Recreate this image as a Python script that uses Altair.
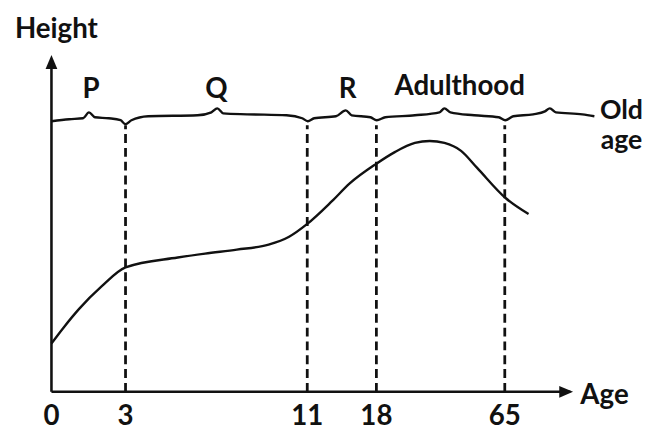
import altair as alt
import pandas as pd

# Growth curve (age in years, height in drawing units above the Age axis)
curve_age = [0, 0.52, 1.12, 2.04, 3, 5.3, 6.5, 7.9, 9.3, 10.2, 11, 13.5, 15.3, 18,
             24.9, 32.1, 37.5, 42.9, 49.0, 54.8, 65.4, 73.7]
curve_h = [49, 66, 84, 107, 126, 136, 140, 144, 149, 157, 170, 193, 211, 231,
           243, 252, 254, 252, 244, 227, 196, 180]

# Wavy stage-boundary line near the top
wave_age = [0, 0.72, 1.28, 1.52, 1.76, 2.32, 2.8, 3, 3.26, 4.0, 6.17, 6.78, 7.04,
            7.3, 8.35, 10.09, 10.78, 11.05, 11.7, 13.9, 14.9, 15.5, 17.4, 18.1,
            21.25, 32.1, 41.1, 42.9, 45.1, 53.8, 62.8, 65.2, 68.1, 75.4, 79.7,
            81.5, 83.7, 93.4, 97.8]
wave_h = [274, 276, 277, 283, 278, 277, 275, 271, 275, 279, 280, 283, 287,
          282, 281, 280, 277, 274, 277, 279, 285, 280, 278, 275,
          278, 280, 283, 287, 283, 280, 278, 275, 279, 281, 284,
          287, 283, 281, 279]

# Stage boundaries (dashed lines) and tick labels
boundary_ages = [3, 11, 18, 65]
tick_ages = [0, 3, 11, 18, 65]
tick_labels = ["0", "3", "11", "18", "65"]

# Stage labels
stage_labels = ["P", "Q", "R", "Adulthood"]
stage_age = [1.6, 7.0, 15.1, 48.5]
stage_h = [306, 306, 306, 309]

FONT = "Lato"
FS = 28
INK = "#111111"

x_scale = alt.Scale(type="linear", domain=[0, 3, 11, 18, 65],
                    range=[0, 75, 259, 329, 459], nice=False, zero=False)
y_scale = alt.Scale(domain=[0, 341], nice=False, zero=False)

X = lambda f: alt.X(f, type="quantitative", scale=x_scale, axis=None)
Y = lambda f: alt.Y(f, type="quantitative", scale=y_scale, axis=None)

curve_df = pd.DataFrame({"age": curve_age, "h": curve_h})
wave_df = pd.DataFrame({"age": wave_age, "h": wave_h})
bound_df = pd.DataFrame({"age": boundary_ages, "h0": [0] * 4, "h1": [270] * 4})
tick_df = pd.DataFrame({"age": tick_ages, "label": tick_labels, "h": [-26] * 5})
stage_df = pd.DataFrame({"age": stage_age, "h": stage_h, "label": stage_labels})

axes_df = pd.DataFrame({"age": [0, 0], "age2": [89, 0], "h": [0, 0], "h2": [0, 336]})
arrow_df = pd.DataFrame({"age": [90.0], "h": [0]})
arrow_up_df = pd.DataFrame({"age": [0], "h": [341]})
misc_df = pd.DataFrame({
    "age": [0.2, 101.5],
    "h": [366, -4],
    "label": ["Height", "Age"],
})
old_df = pd.DataFrame({"age": [107.7, 107.7], "h": [284, 254], "label": ["Old", "age"]})

curve = alt.Chart(curve_df).mark_line(
    color=INK, strokeWidth=2.4, interpolate="monotone", clip=False
).encode(x=X("age"), y=Y("h"))

wave = alt.Chart(wave_df).mark_line(
    color=INK, strokeWidth=2.4, interpolate="monotone", clip=False
).encode(x=X("age"), y=Y("h"))

bounds = alt.Chart(bound_df).mark_rule(
    color=INK, strokeWidth=2.8, strokeDash=[9, 5]
).encode(x=X("age"), y=Y("h0"), y2="h1")

axes = alt.Chart(axes_df).mark_rule(color=INK, strokeWidth=2.6, clip=False).encode(
    x=X("age"), x2="age2", y=Y("h"), y2="h2"
)

arrow_r = alt.Chart(arrow_df).mark_point(
    shape="M0,0 L-2,-0.85 L-2,0.85 Z", size=196, filled=True, color=INK,
    opacity=1, clip=False
).encode(x=X("age"), y=Y("h"))

arrow_u = alt.Chart(arrow_up_df).mark_point(
    shape="M0,0 L-0.85,2 L0.85,2 Z", size=196, filled=True, color=INK,
    opacity=1, clip=False
).encode(x=X("age"), y=Y("h"))

def txt(df, fs=FS):
    return alt.Chart(df).mark_text(
        font=FONT, fontSize=fs, fontWeight="bold", color=INK, baseline="middle",
        align="center"
    ).encode(x=X("age"), y=Y("h"), text="label")

chart = alt.layer(
    bounds, axes, arrow_r, arrow_u, curve, wave,
    txt(tick_df), txt(stage_df), txt(misc_df), txt(old_df, 27)
).properties(
    width=528, height=341,
    autosize=alt.AutoSizeParams(type="none"),
    padding={"left": 44, "top": 45, "right": 75, "bottom": 36},
    background="white",
).configure_view(stroke=None)

chart.save("out.html", embed_options={"renderer": "svg", "actions": False})
